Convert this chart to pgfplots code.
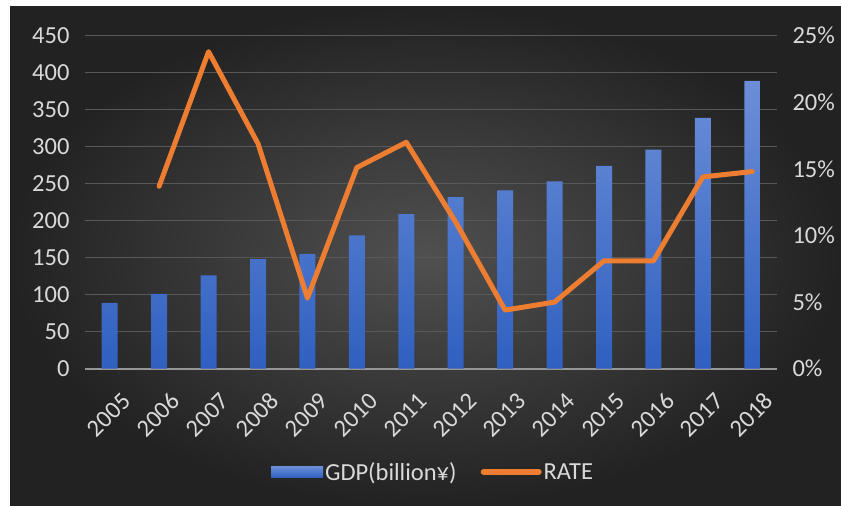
\documentclass[border=0pt]{standalone}
\usepackage{pgfplots}
\pgfplotsset{compat=1.18}
\usepackage{fontspec}
\setmainfont{Carlito}
\definecolor{txt}{RGB}{217,217,217}
\definecolor{gridc}{RGB}{88,88,88}
\definecolor{barTop}{RGB}{108,142,216}
\definecolor{barBot}{RGB}{47,96,192}
\definecolor{ratec}{RGB}{237,125,49}
\newcommand{\lblfont}{\fontsize{24.5}{29}\selectfont}
\begin{document}
\begin{tikzpicture}
\useasboundingbox (0,0) rectangle (841pt,506pt);
\fill[white] (0,0) rectangle (841pt,506pt);
\shade[inner color={rgb,255:red,80;green,80;blue,80}, outer color={rgb,255:red,34;green,34;blue,34}] (10pt,0pt) rectangle (841pt,499pt);
\begin{axis}[
  at={(85pt,137.3pt)}, anchor=south west,
  scale only axis, width=692pt, height=333pt,
  xmin=-0.5, xmax=13.5, ymin=0, ymax=450,
  ytick={0,50,...,450},
  xtick={0,...,13},
  xticklabels={2005,2006,2007,2008,2009,2010,2011,2012,2013,2014,2015,2016,2017,2018},
  axis line style={draw=none},
  tick style={draw=none},
  major tick length=0pt,
  ymajorgrids, grid style={gridc, line width=1.3pt},
  extra y ticks={0}, extra y tick labels={},
  extra y tick style={grid style={color={rgb,255:red,150;green,150;blue,150}, line width=1.8pt}},
  /pgf/number format/assume math mode=true,
  yticklabel style={text=txt, font=\lblfont, xshift=-12pt},
  xticklabel style={text=txt, font=\lblfont, rotate=45, anchor=east, xshift=-5pt, yshift=-32pt},
]
\addplot[ybar, bar width=16pt, draw=none, top color=barTop, bottom color=barBot] coordinates {
(0,89) (1,101) (2,126) (3,148) (4,155) (5,180) (6,209) (7,232) (8,241) (9,253) (10,274) (11,296) (12,339) (13,389)
};
\end{axis}
\begin{axis}[
  at={(85pt,137.3pt)}, anchor=south west,
  scale only axis, width=692pt, height=333pt,
  xmin=-0.5, xmax=13.5, ymin=0, ymax=25,
  axis y line*=right, hide x axis,
  ytick={0,5,...,25},
  axis line style={draw=none},
  tick style={draw=none},
  major tick length=0pt,
  /pgf/number format/assume math mode=true,
  yticklabel={\pgfmathprintnumber{\tick}\%},
  yticklabel style={text=txt, font=\lblfont, xshift=12pt},
  legend style={at={(0.503,-0.310)}, anchor=center, draw=none, fill=none,
    legend columns=2, text=txt, font=\lblfont,
    /tikz/every even column/.append style={column sep=22pt}},
]
\addlegendimage{legend image code/.code={\shade[draw=none, top color=barTop, bottom color=barBot] (-4pt,-5.5pt) rectangle (48pt,5.5pt);}}
\addlegendentry{GDP(billion¥)}
\addplot[ratec, line width=5pt, line join=round, line cap=round,
  legend image code/.code={\draw[ratec, line width=6pt, line cap=round] (3pt,0pt) -- (58pt,0pt);}] coordinates {
(1,13.7) (2,23.8) (3,16.9) (4,5.3) (5,15.1) (6,17.0) (7,11.0) (8,4.4) (9,5.0) (10,8.1) (11,8.1) (12,14.4) (13,14.8)
};
\addlegendentry{RATE}
\end{axis}
\end{tikzpicture}
\end{document}
